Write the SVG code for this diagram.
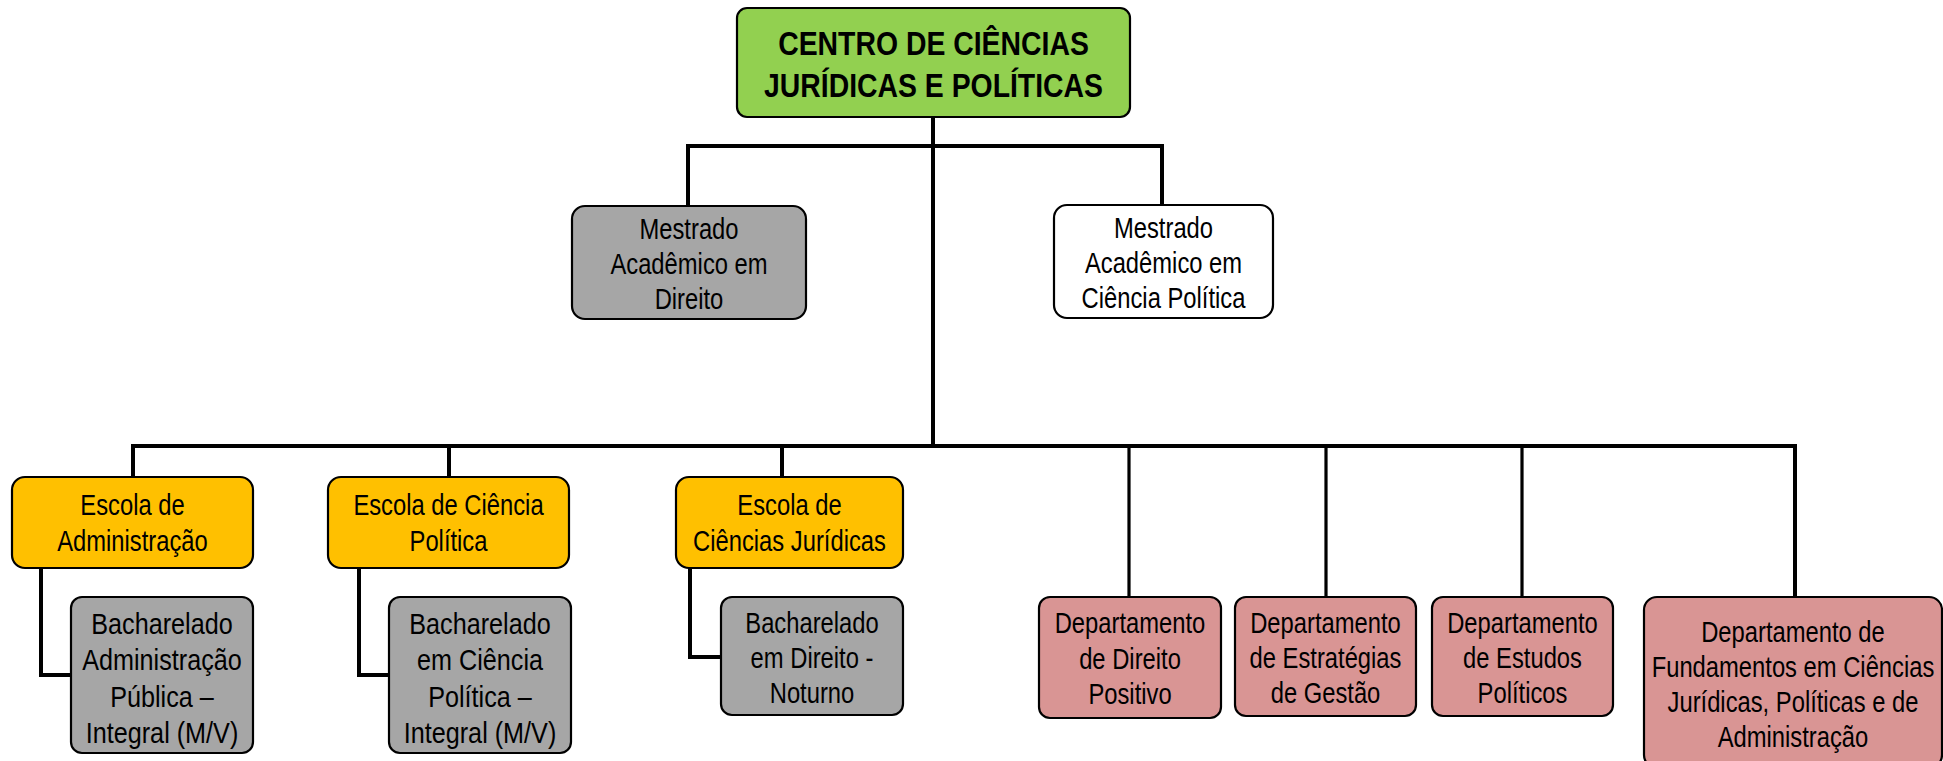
<svg xmlns="http://www.w3.org/2000/svg" width="1943" height="761" viewBox="0 0 1943 761">
<style>
.box{stroke:#000;stroke-width:2.2}
.green{fill:#92d050}.gray{fill:#a6a6a6}.white{fill:#fff}.yellow{fill:#ffc000}.pink{fill:#d99594}
text{font-family:"Liberation Sans",Arial,sans-serif;font-size:29px;fill:#000;text-anchor:middle}
.title{font-size:34px;font-weight:bold}
.big{font-size:30px}
.conn{fill:none;stroke:#000;stroke-width:4;stroke-linejoin:miter;stroke-linecap:square}
.thin{stroke-width:3.2}
</style>
<rect width="1943" height="761" fill="#fff"/>
<g id="connectors">
<path class="conn" d="M933 117V446"/>
<path class="conn" d="M688 206V146H1162V205"/>
<path class="conn" d="M133 477V446H1795V597"/>
<path class="conn" d="M449 446V477M782 446V477"/>
<path class="conn thin" d="M1129 446V597M1326 446V597M1522 446V597"/>
<path class="conn" d="M41 568V675H71"/>
<path class="conn" d="M359 568V675H389"/>
<path class="conn" d="M690 568V657H721"/>
</g>
<g id="centro">
<rect class="box green" x="737" y="8" width="393" height="109" rx="10"/>
<g transform="translate(933.5 0) scale(0.835 1)"><text class="title" x="0" y="55">CENTRO DE CIÊNCIAS</text><text class="title" x="0" y="97">JURÍDICAS E POLÍTICAS</text></g>
</g>
<g id="mestrado-direito">
<rect class="box gray" x="572" y="206" width="234" height="113" rx="13"/>
<g transform="translate(689 0) scale(0.82 1)"><text x="0" y="239">Mestrado</text><text x="0" y="274">Acadêmico em</text><text x="0" y="309">Direito</text></g>
</g>
<g id="mestrado-ciencia-politica">
<rect class="box white" x="1054" y="205" width="219" height="113" rx="13"/>
<g transform="translate(1163.5 0) scale(0.82 1)"><text x="0" y="238">Mestrado</text><text x="0" y="273">Acadêmico em</text><text x="0" y="308">Ciência Política</text></g>
</g>
<g id="escola-administracao">
<rect class="box yellow" x="12" y="477" width="241" height="91" rx="13"/>
<g transform="translate(132.5 0) scale(0.82 1)"><text x="0" y="515">Escola de</text><text x="0" y="551">Administração</text></g>
</g>
<g id="escola-ciencia-politica">
<rect class="box yellow" x="328" y="477" width="241" height="91" rx="13"/>
<g transform="translate(448.5 0) scale(0.82 1)"><text x="0" y="515">Escola de Ciência</text><text x="0" y="551">Política</text></g>
</g>
<g id="escola-ciencias-juridicas">
<rect class="box yellow" x="676" y="477" width="227" height="91" rx="13"/>
<g transform="translate(789.5 0) scale(0.82 1)"><text x="0" y="515">Escola de</text><text x="0" y="551">Ciências Jurídicas</text></g>
</g>
<g id="bacharelado-administracao">
<rect class="box gray" x="71" y="597" width="182" height="156" rx="11"/>
<g transform="translate(162 0) scale(0.84 1)"><text class="big" x="0" y="634">Bacharelado</text><text class="big" x="0" y="670.5">Administração</text><text class="big" x="0" y="707">Pública –</text><text class="big" x="0" y="743.5">Integral (M/V)</text></g>
</g>
<g id="bacharelado-ciencia-politica">
<rect class="box gray" x="389" y="597" width="182" height="156" rx="11"/>
<g transform="translate(480 0) scale(0.84 1)"><text class="big" x="0" y="634">Bacharelado</text><text class="big" x="0" y="670.5">em Ciência</text><text class="big" x="0" y="707">Política –</text><text class="big" x="0" y="743.5">Integral (M/V)</text></g>
</g>
<g id="bacharelado-direito">
<rect class="box gray" x="721" y="597" width="182" height="118" rx="11"/>
<g transform="translate(812 0) scale(0.82 1)"><text x="0" y="633">Bacharelado</text><text x="0" y="668">em Direito -</text><text x="0" y="703">Noturno</text></g>
</g>
<g id="dep-direito-positivo">
<rect class="box pink" x="1039" y="597" width="182" height="121" rx="11"/>
<g transform="translate(1130 0) scale(0.82 1)"><text x="0" y="633">Departamento</text><text x="0" y="669">de Direito</text><text x="0" y="704">Positivo</text></g>
</g>
<g id="dep-estrategias-gestao">
<rect class="box pink" x="1235" y="597" width="181" height="119" rx="11"/>
<g transform="translate(1325.5 0) scale(0.82 1)"><text x="0" y="633">Departamento</text><text x="0" y="668">de Estratégias</text><text x="0" y="703">de Gestão</text></g>
</g>
<g id="dep-estudos-politicos">
<rect class="box pink" x="1432" y="597" width="181" height="119" rx="11"/>
<g transform="translate(1522.5 0) scale(0.82 1)"><text x="0" y="633">Departamento</text><text x="0" y="668">de Estudos</text><text x="0" y="703">Políticos</text></g>
</g>
<g id="dep-fundamentos">
<rect class="box pink" x="1644" y="597" width="298" height="171" rx="13"/>
<g transform="translate(1793 0) scale(0.82 1)"><text x="0" y="642">Departamento de</text><text x="0" y="677">Fundamentos em Ciências</text><text x="0" y="712">Jurídicas, Políticas e de</text><text x="0" y="747">Administração</text></g>
</g>
</svg>
